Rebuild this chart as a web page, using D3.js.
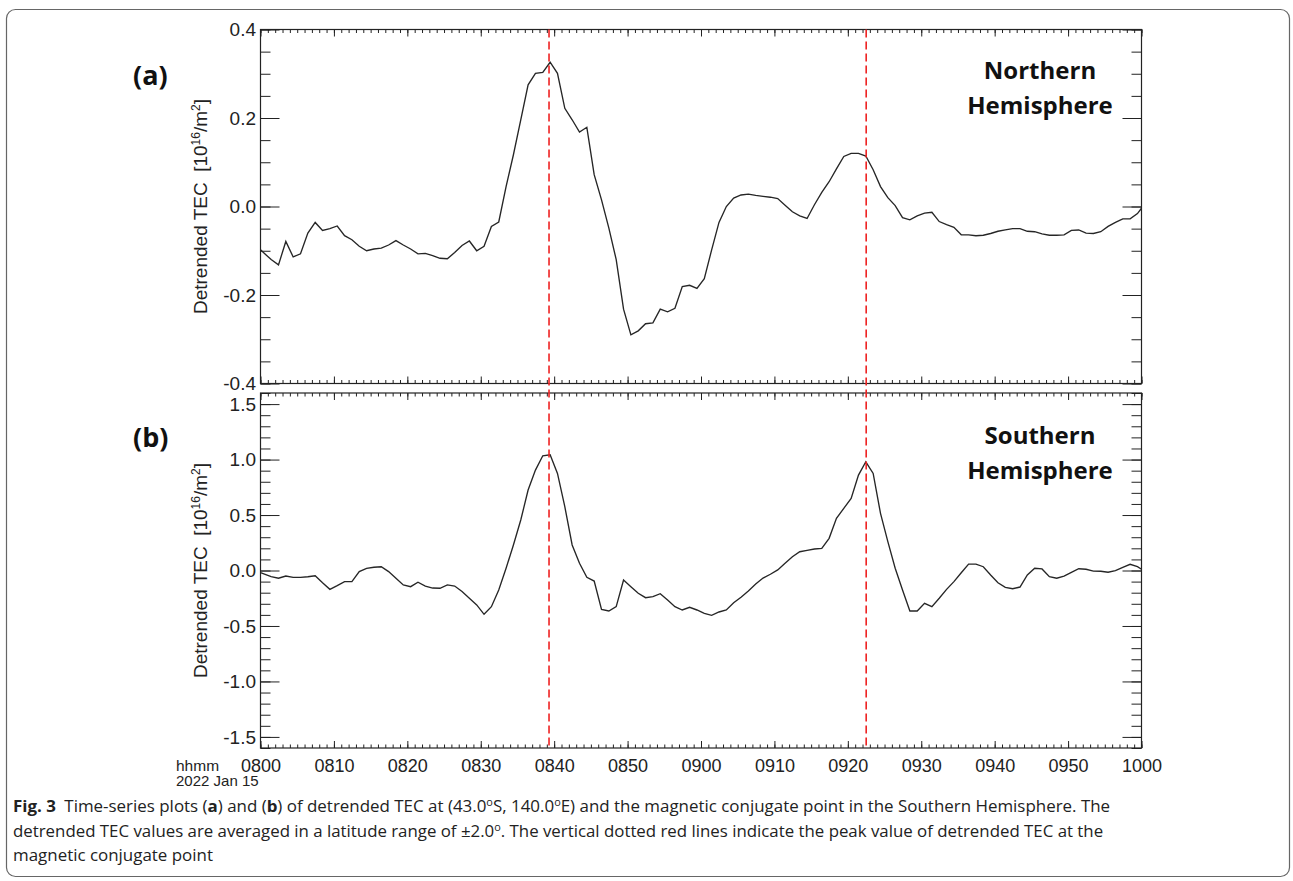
<!DOCTYPE html>
<meta charset="utf-8">
<style type="text/css">
body { margin: 0; background: #fff; }
.tick text { font-family: "Liberation Sans", Arial, sans-serif; fill: #222; }
.tick line { stroke: #222; }
.frame { fill: none; stroke: #222; stroke-width: 1.2px; }
.tecline { fill: none; stroke: #262626; stroke-width: 1.35px; }
.peak { stroke: #ee2222; stroke-width: 1.6px; stroke-dasharray: 8,4; }
</style>
<body>
<script src="https://cdn.jsdelivr.net/npm/d3@7"></script>
<script>
// sample times in minutes after 0800 UT (first / last points sit on the plot edges)
var sampleMinutes = [0].concat(d3.range(1, 120).map(function(k) { return k + 0.45; }), [120]);

// (a) Northern Hemisphere detrended TEC
var tecNorth = [-0.098,
  -0.12, -0.132, -0.079, -0.114, -0.107, -0.06, -0.036, -0.054, -0.05, -0.044,
  -0.066, -0.075, -0.09, -0.1, -0.096, -0.094, -0.087, -0.077, -0.087, -0.096,
  -0.107, -0.106, -0.111, -0.117, -0.118, -0.104, -0.088, -0.078, -0.1, -0.09,
  -0.045, -0.035, 0.045, 0.117, 0.196, 0.275, 0.301, 0.303, 0.326, 0.301,
  0.222, 0.196, 0.168, 0.179, 0.072, 0.015, -0.049, -0.12, -0.232, -0.29,
  -0.281, -0.265, -0.263, -0.232, -0.238, -0.23, -0.181, -0.178, -0.185, -0.163,
  -0.098, -0.036, 0.0, 0.019, 0.026, 0.028, 0.025, 0.023, 0.021, 0.018,
  0.003, -0.012, -0.021, -0.027, 0.004, 0.032, 0.056, 0.085, 0.113, 0.12,
  0.12, 0.114, 0.083, 0.045, 0.02, 0.002, -0.025, -0.03, -0.021, -0.015,
  -0.013, -0.034, -0.041, -0.047, -0.064, -0.064, -0.066, -0.065, -0.061, -0.056,
  -0.053, -0.05, -0.05, -0.056, -0.057, -0.062, -0.065, -0.065, -0.064, -0.054,
  -0.053, -0.06, -0.061, -0.057, -0.045, -0.036, -0.028, -0.028, -0.016,
  -0.004];

// (b) Southern Hemisphere (conjugate point) detrended TEC
var tecSouth = [-0.02,
  -0.056, -0.07, -0.05, -0.062, -0.062, -0.056, -0.047, -0.11, -0.17, -0.137,
  -0.1, -0.1, -0.01, 0.02, 0.029, 0.034, -0.01, -0.07, -0.13, -0.146,
  -0.106, -0.14, -0.158, -0.16, -0.13, -0.14, -0.19, -0.25, -0.31, -0.395,
  -0.326, -0.176, 0.02, 0.23, 0.455, 0.725, 0.905, 1.034, 1.043, 0.875,
  0.575, 0.23, 0.065, -0.061, -0.095, -0.35, -0.365, -0.326, -0.086, -0.146,
  -0.205, -0.245, -0.236, -0.209, -0.266, -0.326, -0.356, -0.332, -0.356, -0.386,
  -0.404, -0.374, -0.356, -0.29, -0.241, -0.185, -0.122, -0.068, -0.034, 0.005,
  0.065, 0.124, 0.169, 0.182, 0.194, 0.2, 0.29, 0.47, 0.56, 0.65,
  0.86, 0.98, 0.875, 0.515, 0.26, 0.02, -0.176, -0.365, -0.365, -0.296,
  -0.326, -0.25, -0.17, -0.1, -0.02, 0.058, 0.058, 0.034, -0.04, -0.11,
  -0.152, -0.164, -0.149, -0.04, 0.02, 0.014, -0.056, -0.07, -0.05, -0.016,
  0.016, 0.011, -0.005, -0.007, -0.016, -0.002, 0.029, 0.056, 0.034,
  0.011];

// peak times (minutes after 0800) marked by red dashed lines
var peakMinutes = [39.3, 82.5];

var xTickMinutes = [0, 10, 20, 30, 40, 50, 60, 70, 80, 90, 100, 110, 120];
var xTickLabels = ["0800", "0810", "0820", "0830", "0840", "0850", "0900",
                   "0910", "0920", "0930", "0940", "0950", "1000"];

var yTicksNorth = [-0.4, -0.2, 0.0, 0.2, 0.4];
var yTicksSouth = [-1.5, -1.0, -0.5, 0.0, 0.5, 1.0, 1.5];

var captionLines = [
  [{t: "Fig. 3", b: true}, {t: "\u2002Time-series plots ("}, {t: "a", b: true}, {t: ") and ("}, {t: "b", b: true},
   {t: ") of detrended TEC at (43.0"}, {t: "o", sup: true}, {t: "S, 140.0"}, {t: "o", sup: true},
   {t: "E) and the magnetic conjugate point in the Southern Hemisphere. The"}],
  [{t: "detrended TEC values are averaged in a latitude range of \u00b12.0"}, {t: "o", sup: true},
   {t: ". The vertical dotted red lines indicate the peak value of detrended TEC at the"}],
  [{t: "magnetic conjugate point"}]
];

var W = 1293, H = 881;
var left = 260.5, right = 1141.5;

var svg = d3.select("body").append("svg")
    .attr("width", W)
    .attr("height", H);

// outer figure box
svg.append("rect")
    .attr("x", 6.5).attr("y", 9.5)
    .attr("width", 1283).attr("height", 867)
    .attr("rx", 9)
    .attr("fill", "none")
    .attr("stroke", "#666")
    .attr("stroke-width", 1.2);

var x = d3.scaleLinear().domain([0, 120]).range([left, right]);
var fmt = function(d) { return d3.format(".1f")(d).replace("\u2212", "-"); };

var panels = [
  {top: 29.5, bottom: 383.5, domain: [-0.4, 0.4], ticks: yTicksNorth, minor: 0.05,
   values: tecNorth, tag: "(a)", tagY: 85, names: ["Northern", "Hemisphere"], nameY: 78.5},
  {top: 393, bottom: 748, domain: [-1.6, 1.6], ticks: yTicksSouth, minor: 0.1,
   values: tecSouth, tag: "(b)", tagY: 447, names: ["Southern", "Hemisphere"], nameY: 444}
];

var xMinor = d3.range(0, 121, 1);

panels.forEach(function(p, i) {
  var y = d3.scaleLinear().domain(p.domain).range([p.bottom, p.top]);
  var g = svg.append("g");
  var yMinor = d3.range(Math.round(p.domain[0] / p.minor), Math.round(p.domain[1] / p.minor) + 1)
      .map(function(k) { return +(k * p.minor).toFixed(3); });

  // y axes, ticks pointing inward on both sides
  g.append("g").attr("transform", "translate(" + left + ",0)")
      .call(d3.axisLeft(y).tickValues(yMinor).tickSize(-10).tickFormat(""));
  g.append("g").attr("transform", "translate(" + left + ",0)")
      .call(d3.axisLeft(y).tickValues(p.ticks).tickSize(-19).tickPadding(4.5).tickFormat(fmt))
      .selectAll("text").style("font-size", "19px");
  g.append("g").attr("transform", "translate(" + right + ",0)")
      .call(d3.axisRight(y).tickValues(yMinor).tickSize(-10).tickFormat(""));
  g.append("g").attr("transform", "translate(" + right + ",0)")
      .call(d3.axisRight(y).tickValues(p.ticks).tickSize(-19).tickFormat(""));

  // x axes top and bottom
  g.append("g").attr("transform", "translate(0," + p.top + ")")
      .call(d3.axisTop(x).tickValues(xMinor).tickSize(-3.5).tickFormat(""));
  g.append("g").attr("transform", "translate(0," + p.top + ")")
      .call(d3.axisTop(x).tickValues(xTickMinutes).tickSize(-7).tickFormat(""));
  g.append("g").attr("transform", "translate(0," + p.bottom + ")")
      .call(d3.axisBottom(x).tickValues(xMinor).tickSize(-3.5).tickFormat(""));
  var xb = g.append("g").attr("transform", "translate(0," + p.bottom + ")")
      .call(d3.axisBottom(x).tickValues(xTickMinutes).tickSize(-7).tickPadding(11)
        .tickFormat(function(d, j) { return i === 1 ? xTickLabels[j] : ""; }));
  xb.selectAll("text").style("font-size", "18px");

  g.selectAll(".domain").remove();

  g.append("rect").attr("class", "frame")
      .attr("x", left).attr("y", p.top)
      .attr("width", right - left).attr("height", p.bottom - p.top);

  var pts = sampleMinutes.map(function(t, j) { return {t: t, v: p.values[j]}; });
  g.append("path").datum(pts)
      .attr("class", "tecline")
      .attr("d", d3.line().x(function(d) { return x(d.t); }).y(function(d) { return y(d.v); }));

  // rotated y title with superscripts
  var cy = (p.top + p.bottom) / 2;
  var title = g.append("text")
      .attr("transform", "translate(206.5," + cy + ") rotate(-90)")
      .attr("text-anchor", "middle")
      .style("font-family", "Liberation Sans, Arial, sans-serif")
      .style("font-size", "19px")
      .attr("fill", "#222");
  title.append("tspan").text("Detrended TEC\u00a0\u00a0[10");
  title.append("tspan").attr("dy", -7).style("font-size", "12px").text("16");
  title.append("tspan").attr("dy", 7).text("/m");
  title.append("tspan").attr("dy", -7).style("font-size", "12px").text("2");
  title.append("tspan").attr("dy", 7).text("]");

  // panel tag
  g.append("text")
      .attr("x", 133).attr("y", p.tagY)
      .style("font-family", "Open Sans, sans-serif")
      .style("font-weight", "bold")
      .style("font-size", "27px")
      .attr("fill", "#111")
      .text(p.tag);

  // hemisphere label
  p.names.forEach(function(s, k) {
    g.append("text")
        .attr("x", 1040).attr("y", p.nameY + k * 35)
        .attr("text-anchor", "middle")
        .style("font-family", "Open Sans, sans-serif")
        .style("font-weight", "bold")
        .style("font-size", "24px")
        .attr("fill", "#111")
        .text(s);
  });
});

// dashed peak markers across both panels
svg.selectAll(".peak").data(peakMinutes).enter().append("line")
    .attr("class", "peak")
    .attr("x1", function(d) { return x(d); })
    .attr("x2", function(d) { return x(d); })
    .attr("y1", panels[0].top)
    .attr("y2", panels[1].bottom);

// date label under the first tick
svg.append("text").attr("x", 176).attr("y", 771).attr("text-anchor", "start")
    .style("font-family", "Liberation Sans, Arial, sans-serif").style("font-size", "15.5px")
    .attr("fill", "#222").text("hhmm");
svg.append("text").attr("x", 176).attr("y", 786).attr("text-anchor", "start")
    .style("font-family", "Liberation Sans, Arial, sans-serif").style("font-size", "15px")
    .attr("fill", "#222").text("2022 Jan 15");

// caption
var capWidths = [1098, 1091];
var firstScale = 1;
captionLines.forEach(function(parts, li) {
  var baseY = 812 + li * 24.5;
  var t = svg.append("text")
      .attr("x", 0).attr("y", 0)
      .style("font-family", "Open Sans, sans-serif")
      .style("font-size", "15.5px")
      .attr("fill", "#222");
  var shift = 0;
  parts.forEach(function(part) {
    var ts = t.append("tspan").text(part.t);
    if (part.b) ts.style("font-weight", "bold");
    if (part.sup) {
      ts.attr("dy", -6).style("font-size", "10px");
      shift = 6;
    } else if (shift) {
      ts.attr("dy", shift);
      shift = 0;
    }
  });
  var w = t.node().getComputedTextLength();
  var sx = li < capWidths.length ? capWidths[li] / w : firstScale;
  if (li === 0) firstScale = sx;
  t.attr("transform", "translate(13," + baseY + ") scale(" + sx + ",1)");
});
</script>
</body>
